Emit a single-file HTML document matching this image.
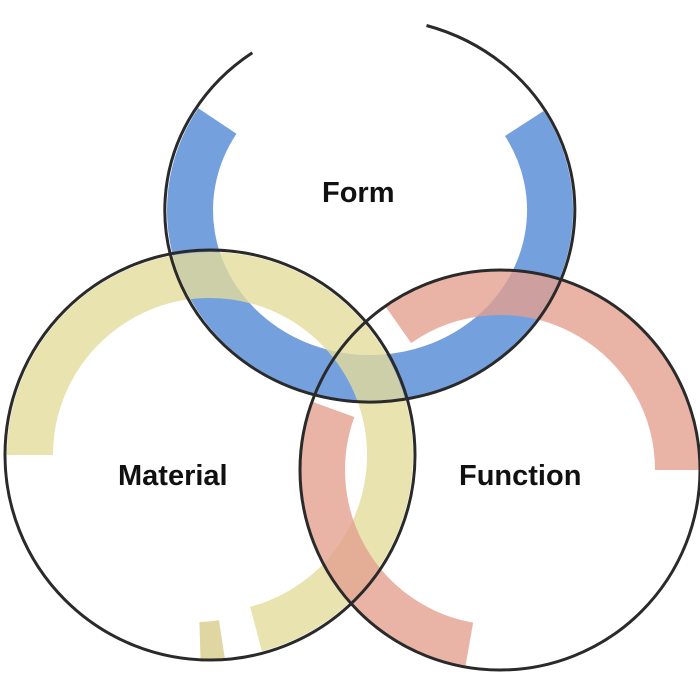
<!DOCTYPE html>
<html><head><meta charset="utf-8"><style>
html,body{margin:0;padding:0;background:#fff;width:700px;height:700px;overflow:hidden}
text{font-family:"Liberation Sans",Arial,sans-serif;font-weight:bold;font-size:29px;fill:#111}
</style></head><body>
<svg width="700" height="700" viewBox="0 0 700 700" xmlns="http://www.w3.org/2000/svg">
<g style="mix-blend-mode:multiply">
<path d="M 217.4 121 A 180 168 0 1 0 524.3 123.5" fill="none" stroke="#5d8fd8" stroke-width="46" opacity="0.85"/>
<path d="M 30 455 A 180 180 0 1 1 256 629" fill="none" stroke="#e4dc9c" stroke-width="46" opacity="0.8"/>
<path d="M 222 640 A 180 180 0 0 1 200 642" fill="none" stroke="#d8cc8a" stroke-width="40" opacity="0.8"/>
<path d="M 398.5 325 A 177 177 0 0 1 677 470" fill="none" stroke="#e3a190" stroke-width="44" opacity="0.8"/>
<path d="M 333.7 409.5 A 177 177 0 0 0 469.3 644.3" fill="none" stroke="#e3a190" stroke-width="44" opacity="0.8"/>
</g>
<g fill="none" stroke="#2a2a2a" stroke-width="3">
<path d="M 252.3 52.7 A 205 192 0 1 0 426.5 25.5"/>
<circle cx="210" cy="455" r="205"/>
<circle cx="500" cy="470" r="200"/>
</g>
<text x="322" y="202">Form</text>
<text x="118" y="485">Material</text>
<text x="459" y="485">Function</text>
</svg>
</body></html>
